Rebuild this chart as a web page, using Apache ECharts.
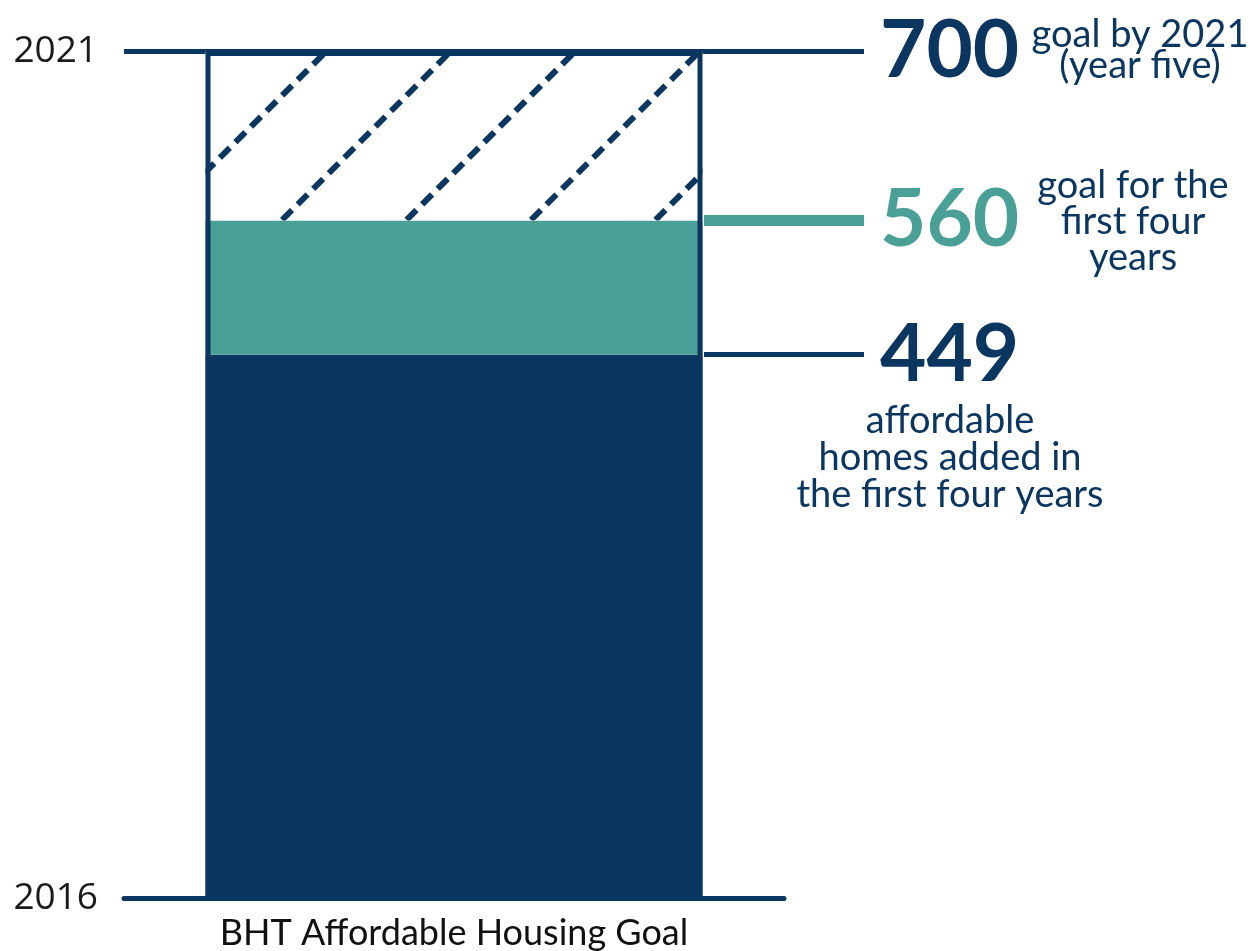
<!DOCTYPE html>
<html>
<head>
<meta charset="utf-8">
<script src="https://cdn.jsdelivr.net/npm/echarts@6/dist/echarts.min.js"></script>
<style>
  html, body { margin: 0; padding: 0; background: #ffffff; }
  #chart { width: 1258px; height: 951px; }
</style>
</head>
<body>
<div id="chart"></div>
<script>
// ---- data ----
const categories = ['BHT Affordable Housing Goal'];
const yearTicks = ['2016', '2021'];
const homesAdded = [449];
const goalFourYears = [560];
const goalFiveYears = [700];
const goalLabels = ['goal by 2021\n(year five)', 'goal for the\nfirst four\nyears', 'affordable\nhomes added in\nthe first four years'];

// ---- styles ----
const NAVY = '#0a3660';
const TEAL = '#4a9f97';
const FONT = 'Lato, "Open Sans", sans-serif';

const teal = goalFourYears.map((v, i) => v - homesAdded[i]);
const hatch = goalFiveYears.map((v, i) => v - goalFourYears[i]);
const yMax = goalFiveYears[0];

const chart = echarts.init(document.getElementById('chart'), null, { renderer: 'canvas' });

const BAR_W = 497;

const option = {
  animation: false,
  backgroundColor: '#ffffff',
  grid: [
    { left: 124, right: 474, top: 51, bottom: 53, containLabel: false },
    { left: 704, right: 394, top: 51, bottom: 53, containLabel: false }
  ],
  xAxis: [
    {
      type: 'category', gridIndex: 0, data: categories,
      axisLine: { show: true, lineStyle: { color: NAVY, width: 5 } },
      axisTick: { show: false },
      axisLabel: { color: '#111', fontFamily: FONT, fontSize: 36, margin: 17 }
    },
    { type: 'value', gridIndex: 1, min: 0, max: 1, show: false }
  ],
  yAxis: [
    {
      type: 'value', gridIndex: 0, min: 0, max: yMax, interval: yMax,
      axisLine: { show: false }, axisTick: { show: false },
      axisLabel: {
        color: '#1a1a1a', fontFamily: '"Open Sans", sans-serif', fontSize: 37, margin: 26,
        formatter: (v) => yearTicks[Math.round(v / yMax)]
      },
      splitLine: { show: true, lineStyle: { color: ['rgba(0,0,0,0)', NAVY], width: 5 } }
    },
    { type: 'value', gridIndex: 1, min: 0, max: yMax, interval: yMax, show: false }
  ],
  series: [
    {
      name: 'Homes added', type: 'bar', stack: 'goal', xAxisIndex: 0, yAxisIndex: 0,
      barWidth: BAR_W, barGap: '-100%', data: homesAdded,
      itemStyle: { color: NAVY }, silent: true
    },
    {
      name: 'Goal first four years', type: 'bar', stack: 'goal', xAxisIndex: 0, yAxisIndex: 0,
      barWidth: BAR_W, barGap: '-100%', data: teal,
      itemStyle: { color: TEAL }, silent: true
    },
    {
      name: 'Goal by 2021', type: 'bar', stack: 'goal', xAxisIndex: 0, yAxisIndex: 0,
      barWidth: BAR_W, barGap: '-100%', data: hatch,
      itemStyle: {
        color: '#ffffff',
        decal: {
          symbol: 'rect', symbolSize: 1, color: NAVY,
          dashArrayX: [14, 8], dashArrayY: [6, 82],
          rotation: -Math.PI / 4
        }
      },
      silent: true
    },
    {
      name: 'Outline', type: 'bar', xAxisIndex: 0, yAxisIndex: 0, z: 5,
      barWidth: BAR_W, barGap: '-100%', data: goalFiveYears,
      itemStyle: { color: 'rgba(0,0,0,0)', borderColor: NAVY, borderWidth: 5 },
      silent: true
    },
    {
      name: 'Reference', type: 'line', xAxisIndex: 1, yAxisIndex: 1, data: [], silent: true,
      markLine: {
        silent: true, symbol: ['none', 'none'], animation: false,
        label: {
          show: true, position: 'end', distance: 16,
          fontFamily: FONT, fontWeight: 'bold', fontSize: 80
        },
        data: [
          { yAxis: goalFiveYears[0], lineStyle: { color: NAVY, width: 5, type: 'solid' },
            label: { color: NAVY, formatter: String(goalFiveYears[0]) } },
          { yAxis: goalFourYears[0], lineStyle: { color: TEAL, width: 11, type: 'solid' },
            label: { color: TEAL, formatter: String(goalFourYears[0]) } },
          { yAxis: homesAdded[0], lineStyle: { color: NAVY, width: 5, type: 'solid' },
            label: { color: NAVY, formatter: String(homesAdded[0]) } }
        ]
      }
    }
  ]
};

chart.setOption(option);

const py = (v) => chart.convertToPixel({ yAxisIndex: 1 }, v);
const descStyle = { fill: NAVY, fontFamily: FONT, fontSize: 38, align: 'center' };

chart.setOption({
  graphic: [
    { type: 'text', x: 1140, y: py(goalFiveYears[0]) - 1, silent: true,
      style: Object.assign({}, descStyle, { text: goalLabels[0], verticalAlign: 'middle', lineHeight: 31 }) },
    { type: 'text', x: 1133, y: py(goalFourYears[0]) + 1, silent: true,
      style: Object.assign({}, descStyle, { text: goalLabels[1], verticalAlign: 'middle', lineHeight: 36 }) },
    { type: 'text', x: 950, y: py(homesAdded[0]) + 48, silent: true,
      style: Object.assign({}, descStyle, { text: goalLabels[2], verticalAlign: 'top', lineHeight: 37 }) }
  ]
});
</script>
</body>
</html>
